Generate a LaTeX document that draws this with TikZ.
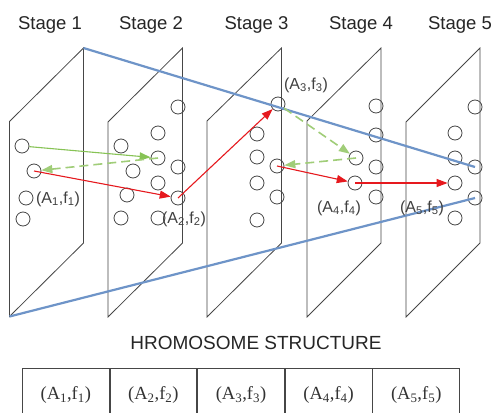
\documentclass[tikz,border=0pt]{standalone}
\usepackage{fontspec}
\setmainfont{Liberation Sans}
\newfontfamily\tabfont{Liberation Serif}
\usetikzlibrary{arrows.meta}
\definecolor{edgegray}{RGB}{70,70,70}
\definecolor{myred}{RGB}{230,25,30}
\definecolor{mygreen}{RGB}{135,195,85}
\definecolor{mygreenl}{RGB}{160,205,120}
\definecolor{myblue}{RGB}{110,148,200}
\begin{document}
\begin{tikzpicture}[x=1pt,y=-1pt,
 panel/.style={draw=edgegray,line width=0.8pt,line join=miter},
 dot/.style={circle,draw=edgegray,line width=0.8pt,minimum size=14pt,inner sep=0pt},
 redarr/.style={draw=myred,line width=1.1pt,-{Triangle[length=11pt,width=8pt]}},
 greenarr/.style={draw=mygreen,line width=1.1pt,-{Triangle[length=11pt,width=8pt]}},
 greendash/.style={draw=mygreenl,line width=1.6pt,dash pattern=on 9pt off 5pt,-{Triangle[length=11pt,width=8pt]}},
 blueln/.style={draw=myblue,line width=2.2pt},
 stagelbl/.style={font=\fontsize{18.5}{22}\selectfont,text=black!85,anchor=base,inner sep=0pt},
 pairlbl/.style={font=\fontsize{16}{18}\selectfont,text=black!75,inner sep=0pt},
 cell/.style={draw=edgegray,line width=0.8pt,minimum width=86.8pt,minimum height=54pt,inner sep=0pt,
   font=\tabfont\fontsize{18.5}{22}\selectfont,text=black!80}
]
\clip (0,0) rectangle (494,412);
\fill[white] (0,0) rectangle (494,412);

% stage labels
\node[stagelbl] (s1) at (50,29.5) {Stage 1};
\node[stagelbl] (s2) at (151,29.5) {Stage 2};
\node[stagelbl] (s3) at (256.5,29.5) {Stage 3};
\node[stagelbl] (s4) at (361,29.5) {Stage 4};
\node[stagelbl] (s5) at (460,29.5) {Stage 5};

% panels
\coordinate (p1tr) at (83.5,48);
\coordinate (p1bl) at (9.5,316.5);
\draw[panel] (9.5,121.5) -- (p1tr) -- (83.5,243) -- (p1bl) -- cycle;
\draw[panel] (108,122) -- (182.5,48) -- (182.5,243) -- (108,317) -- cycle;
\draw[panel] (207,121) -- (281.5,48) -- (281.5,243) -- (207,317) -- cycle;
\draw[panel] (307,121) -- (381,48) -- (381,243) -- (307,317) -- cycle;
\draw[panel] (406,122) -- (480,48) -- (480,243) -- (406,317) -- cycle;

% circles panel 1
\node[dot] (p1a) at (22,146) {};
\node[dot] (p1b) at (34,171) {};
\node[dot] (p1c) at (26,198) {};
\node[dot] (p1d) at (23,219) {};
% panel 2
\node[dot] (p2a) at (178,107) {};
\node[dot] (p2b) at (158,133) {};
\node[dot] (p2c) at (121,146) {};
\node[dot] (p2d) at (158,158) {};
\node[dot] (p2e) at (133,171) {};
\node[dot] (p2f) at (178,167) {};
\node[dot] (p2g) at (158,183) {};
\node[dot] (p2h) at (127,195) {};
\node[dot] (p2i) at (178,198) {};
\node[dot] (p2j) at (121,218) {};
\node[dot] (p2k) at (158,218) {};
% panel 3
\node[dot] (p3a) at (278,104) {};
\node[dot] (p3b) at (257,134) {};
\node[dot] (p3c) at (257,157) {};
\node[dot] (p3d) at (277,166) {};
\node[dot] (p3e) at (257,183) {};
\node[dot] (p3f) at (277,197) {};
\node[dot] (p3g) at (257,220) {};
% panel 4
\node[dot] (p4a) at (376,106) {};
\node[dot] (p4b) at (376,135) {};
\node[dot] (p4c) at (356,158) {};
\node[dot] (p4d) at (376,167) {};
\node[dot] (p4e) at (355,183) {};
\node[dot] (p4f) at (376,197) {};
% panel 5
\node[dot] (p5a) at (475,107) {};
\node[dot] (p5b) at (455,133) {};
\node[dot] (p5c) at (455,158) {};
\node[dot] (p5d) at (475,167) {};
\node[dot] (p5e) at (455,183) {};
\node[dot] (p5f) at (475,198) {};
\node[dot] (p5g) at (455,218) {};

% blue lines
\draw[blueln] (p1tr) -- (p5d.center);
\draw[blueln] (p1bl) -- (p5f.center);

% green arrows
\draw[greenarr] (p1a) -- (p2d);
\draw[greendash] (p2d.center) -- (p1b);
\draw[greendash] (p3a) -- (p4c);
\draw[greendash] (p4c.center) -- (p3d);

% red arrows
\draw[redarr] (p1b.center) -- (p2i);
\draw[redarr] (p2i.center) -- (p3a);
\draw[redarr] (p3d.center) -- (p4e);
\draw[redarr] (p4e.center) -- (p5e);

% pair labels
\node[pairlbl] (l1) at (58,199) {(A\textsubscript{1},f\textsubscript{1})};
\node[pairlbl] (l2) at (184,219) {(A\textsubscript{2},f\textsubscript{2})};
\node[pairlbl] (l3) at (306,85) {(A\textsubscript{3},f\textsubscript{3})};
\node[pairlbl] (l4) at (339,208) {(A\textsubscript{4},f\textsubscript{4})};
\node[pairlbl] (l5) at (422,208) {(A\textsubscript{5},f\textsubscript{5})};

% title
\node[stagelbl,font=\fontsize{19}{22}\selectfont] (title) at (256,349) {HROMOSOME STRUCTURE};

% table
\node[cell,anchor=north west] (t1) at (22,368) {(A\textsubscript{1},f\textsubscript{1})};
\node[cell,anchor=west] (t2) at (t1.east) {(A\textsubscript{2},f\textsubscript{2})};
\node[cell,anchor=west] (t3) at (t2.east) {(A\textsubscript{3},f\textsubscript{3})};
\node[cell,anchor=west] (t4) at (t3.east) {(A\textsubscript{4},f\textsubscript{4})};
\node[cell,anchor=west] (t5) at (t4.east) {(A\textsubscript{5},f\textsubscript{5})};
\end{tikzpicture}
\end{document}
